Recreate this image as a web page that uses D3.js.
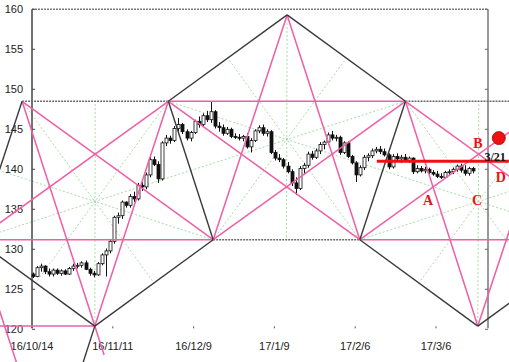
<!DOCTYPE html>
<html>
<head>
<meta charset="utf-8">
<script src="https://cdn.jsdelivr.net/npm/d3@7/dist/d3.min.js"></script>
<style>
body{margin:0;background:#fff;}
svg{display:block;}
</style>
</head>
<body>
<svg id="chart" width="509" height="362"></svg>
<script>
// daily candles, bar 0 = 16/10/14
var opens  = [126.9,126.6,127.7,127.9,127.2,126.9,127.4,127.0,127.3,126.9,127.6,127.9,128.0,128.3,127.5,127.0,126.8,128.2,129.3,129.8,
              131.0,134.0,134.2,135.9,135.5,136.6,136.3,138.0,137.8,139.3,141.2,140.6,138.8,143.3,143.9,143.6,145.1,145.6,144.7,143.9,
              144.6,146.0,145.6,146.7,146.2,147.2,145.4,145.2,144.5,145.0,144.1,144.0,143.9,144.1,142.8,143.6,144.8,145.2,144.5,144.7,
              142.1,141.4,141.2,140.4,139.7,138.3,137.6,140.1,140.5,141.9,141.5,142.3,143.1,143.4,144.3,143.9,144.0,142.1,143.3,141.6,
              140.8,139.3,140.2,141.5,141.7,142.3,142.5,142.2,141.8,140.3,141.6,141.3,141.5,141.1,141.4,139.7,140.1,139.8,140.0,139.6,
              139.4,139.1,139.0,139.6,139.7,140.0,140.4,139.9,139.5,140.1];
var highs  = [127.1,127.9,128.2,128.0,127.6,127.6,127.6,127.5,127.5,127.8,128.2,128.3,128.5,128.6,127.7,127.3,128.4,129.5,130.1,131.3,
              134.2,134.6,136.1,136.0,136.9,137.2,138.3,138.4,139.6,141.5,141.6,141.0,143.5,144.3,144.2,145.4,146.4,145.8,145.0,144.8,
              146.2,146.6,147.0,147.3,148.4,147.4,145.9,145.6,145.3,145.2,144.5,144.4,144.3,144.5,143.9,145.0,145.5,145.6,145.0,144.9,
              142.4,141.9,141.4,140.9,140.0,139.0,140.4,140.8,142.2,142.3,142.6,143.4,143.6,144.6,144.8,144.3,144.2,143.5,143.5,141.8,
              141.0,140.5,141.8,142.0,142.6,142.8,142.9,142.6,142.0,141.9,142.0,141.8,141.9,141.6,141.5,140.5,140.4,140.3,140.2,139.9,
              139.8,139.5,139.8,140.0,140.2,140.6,140.7,140.5,140.3,140.3];
var lows   = [126.4,126.5,127.2,126.9,126.6,126.6,126.8,126.7,126.8,126.8,127.3,127.6,127.7,127.4,126.7,126.5,126.7,128.0,126.6,129.5,
              130.7,133.2,133.8,135.2,135.2,135.9,136.1,137.3,137.5,139.0,140.4,138.3,138.6,142.9,143.2,143.4,144.7,144.4,143.6,143.5,
              144.4,145.2,145.4,145.9,145.8,145.1,144.7,144.2,144.3,143.9,143.8,143.6,143.5,142.6,142.1,143.4,144.5,144.2,144.1,141.9,
              141.1,140.9,140.1,139.5,137.9,136.8,137.4,139.4,140.2,141.2,141.3,141.9,142.5,143.1,143.6,143.5,141.8,141.9,141.4,140.6,
              138.4,139.1,139.9,141.0,141.4,142.0,141.9,141.6,140.0,140.1,140.9,140.8,140.9,140.8,139.4,139.5,139.6,139.5,139.4,139.2,
              138.9,138.8,138.9,139.3,139.4,139.7,139.6,139.2,139.2,139.5];
var closes = [126.6,127.7,127.9,127.2,126.9,127.4,127.0,127.3,126.9,127.6,127.9,128.0,128.3,127.5,127.0,126.8,128.2,129.3,129.8,131.0,
              134.0,134.2,135.9,135.5,136.6,136.3,138.0,137.8,139.3,141.2,140.6,138.8,143.3,143.9,143.6,145.1,145.6,144.7,143.9,144.6,
              146.0,145.6,146.7,146.2,147.2,145.4,145.2,144.5,145.0,144.1,144.0,143.9,144.1,142.8,143.6,144.8,145.2,144.5,144.7,142.1,
              141.4,141.2,140.4,139.7,138.3,137.6,140.1,140.5,141.9,141.5,142.3,143.1,143.4,144.3,143.9,144.0,142.1,143.3,141.6,140.8,
              139.3,140.2,141.5,141.7,142.3,142.5,142.2,141.8,140.3,141.6,141.3,141.5,141.1,141.4,139.7,140.1,139.8,140.0,139.6,139.4,
              139.1,139.0,139.6,139.7,140.0,140.4,139.9,139.5,140.1,139.8];

var tickBars   = [0,20,40,60,80,100];
var tickLabels = ["16/10/14","16/11/11","16/12/9","17/1/9","17/2/6","17/3/6"];
var priceTicks = [120,125,130,135,140,145,150,155,160];

// pentagram vertices: [bar index, price]
var pts = {
  A:[-2.7,148.5], C:[33.5,148.5], F:[92.2,148.5], K:[128.5,148.5],
  L0:[-14.0,131.2], D:[44.6,131.2], G:[80.9,131.2], L3:[139.6,131.2],
  B:[15.3,120.4], H:[110.1,120.4], E:[62.9,159.3],
  C2:[-43.3,120.4], G2:[4.2,103.0], Bx:[17.6,116.8]
};
// pentagons in order round each circle
var pentagons = [["B","D","C","A","L0"],["E","C","D","G","F"],["H","L3","K","F","G"]];
var pinkLines  = [["A","B"],["C","B"],["A","D"],["C","L0"],["L0","D"],
                  ["E","D"],["E","G"],["C","G"],["F","D"],["C","F"],
                  ["F","H"],["K","H"],["F","L3"],["K","G"],["G","L3"],
                  ["L0","G2"],["C2","B"],["B","Bx"]];
var blackLines = [["C","D"],["D","B"],["B","L0"],["L0","A"],
                  ["C","E"],["E","F"],["F","G"],
                  ["K","L3"],["L3","H"],["H","G"],
                  ["L0","C2"],["B","G2"]];
var grayLines  = [["A","C"],["D","G"],["F","K"]];

// annotations
var noteLetters = [["A",97.8,136.2],["B",110.1,143.3],["C",109.9,136.2],["D",115.8,139.0]];
var noteDate = ["3/21",114.4,141.5];
var noteDot = [115.3,143.9];
var redLevel = [85.1,117.8,141.0];

var x = d3.scaleLinear().domain([0,109]).range([33,33+109*4.04]);
var y = d3.scaleLinear().domain([120,160]).range([329.3,9.3]);
var axisLeft = 32, axisRight = 488;

var svg = d3.select("#chart");

function px(n){ return x(pts[n][0]); }
function py(n){ return y(pts[n][1]); }

// green rays: each vertex to the middle of the opposite side
var rays = [];
pentagons.forEach(function(pg){
  pg.forEach(function(v,i){
    var a = pg[(i+2)%5], b = pg[(i+3)%5];
    rays.push({x1:px(v), y1:py(v), x2:(px(a)+px(b))/2, y2:(py(a)+py(b))/2});
  });
});
svg.append("g").selectAll("line").data(rays).enter().append("line")
  .attr("x1",function(d){return d.x1;}).attr("y1",function(d){return d.y1;})
  .attr("x2",function(d){return d.x2;}).attr("y2",function(d){return d.y2;})
  .attr("stroke","#a6dca6").attr("stroke-width",1).attr("stroke-dasharray","2,2");

// frame
var frame = svg.append("g");
frame.append("line").attr("x1",axisLeft).attr("x2",axisRight).attr("y1",y(160)).attr("y2",y(160))
  .attr("stroke","#777").attr("stroke-width",1.5).attr("stroke-dasharray","2,1");
frame.append("line").attr("x1",axisRight).attr("x2",axisRight).attr("y1",y(160)).attr("y2",y(120)-1)
  .attr("stroke","#777").attr("stroke-width",1.5);
frame.append("line").attr("x1",axisLeft).attr("x2",axisLeft).attr("y1",y(160)).attr("y2",y(120)-1)
  .attr("stroke","#444").attr("stroke-width",1.5);
frame.selectAll(".lt").data(priceTicks).enter().append("line")
  .attr("x1",axisLeft).attr("x2",axisLeft+3).attr("y1",function(d){return y(d);}).attr("y2",function(d){return y(d);})
  .attr("stroke","#444");
frame.selectAll(".rt").data(priceTicks).enter().append("line")
  .attr("x1",axisRight-3).attr("x2",axisRight).attr("y1",function(d){return y(d);}).attr("y2",function(d){return y(d);})
  .attr("stroke","#666");
frame.selectAll(".ylab").data(priceTicks).enter().append("text")
  .attr("x",23).attr("y",function(d){return y(d)+4;})
  .attr("text-anchor","end").attr("font-family","Liberation Sans, Arial, sans-serif").attr("font-size",11)
  .attr("fill","#222").text(function(d){return d;});
frame.selectAll(".bt").data(tickBars).enter().append("line")
  .attr("x1",function(d){return x(d)-1;}).attr("x2",function(d){return x(d)-1;})
  .attr("y1",y(120)-3).attr("y2",y(120)-1).attr("stroke","#555");
frame.selectAll(".xlab").data(tickBars).enter().append("text")
  .attr("x",function(d){return x(d)-1;}).attr("y",350)
  .attr("text-anchor","middle").attr("font-family","Liberation Sans, Arial, sans-serif").attr("font-size",11)
  .attr("fill","#222").text(function(d,i){return tickLabels[i];});

// candles
var bars = d3.range(closes.length);
var cg = svg.append("g");
cg.selectAll(".wick").data(bars).enter().append("line")
  .attr("x1",function(i){return Math.round(x(i))+0.5;}).attr("x2",function(i){return Math.round(x(i))+0.5;})
  .attr("y1",function(i){return y(highs[i]);}).attr("y2",function(i){return y(lows[i]);})
  .attr("stroke","#111").attr("stroke-width",1);
cg.selectAll(".body").data(bars).enter().append("rect")
  .attr("x",function(i){return Math.round(x(i))-1;})
  .attr("y",function(i){return y(Math.max(opens[i],closes[i]));})
  .attr("width",3)
  .attr("height",function(i){return Math.max(1,Math.abs(y(opens[i])-y(closes[i])));})
  .attr("fill",function(i){return closes[i]>=opens[i]?"#fff":"#111";})
  .attr("stroke","#111").attr("stroke-width",0.8);

// pentagram lines
function drawSet(list, color, width, dash){
  svg.append("g").selectAll("line").data(list).enter().append("line")
    .attr("x1",function(d){return px(d[0]);}).attr("y1",function(d){return py(d[0]);})
    .attr("x2",function(d){return px(d[1]);}).attr("y2",function(d){return py(d[1]);})
    .attr("stroke",color).attr("stroke-width",width)
    .attr("stroke-dasharray",dash||null);
}
drawSet(grayLines,"#6a6a6a",1.5,"2,1");
drawSet(pinkLines,"#ee5fa7",1.5);
drawSet(blackLines,"#3a3a3a",1.4);

// red level and notes
svg.append("line").attr("x1",x(redLevel[0])).attr("x2",x(redLevel[1]))
  .attr("y1",y(redLevel[2])).attr("y2",y(redLevel[2]))
  .attr("stroke","#ee1111").attr("stroke-width",3);
svg.append("circle").attr("cx",x(noteDot[0])).attr("cy",y(noteDot[1])).attr("r",6.5)
  .attr("fill","#ee1111").attr("stroke","#aa0000").attr("stroke-width",0.8);
svg.selectAll(".note").data(noteLetters).enter().append("text")
  .attr("x",function(d){return x(d[1]);}).attr("y",function(d){return y(d[2])+5;})
  .attr("text-anchor","middle").attr("font-family","Liberation Serif, serif").attr("font-weight","bold")
  .attr("font-size",14).attr("fill","#ee1111").text(function(d){return d[0];});
svg.append("text").attr("x",x(noteDate[1])).attr("y",y(noteDate[2])+4)
  .attr("text-anchor","middle").attr("font-family","Liberation Serif, serif").attr("font-weight","bold")
  .attr("font-size",12).attr("fill","#111").text(noteDate[0]);
</script>
</body>
</html>
